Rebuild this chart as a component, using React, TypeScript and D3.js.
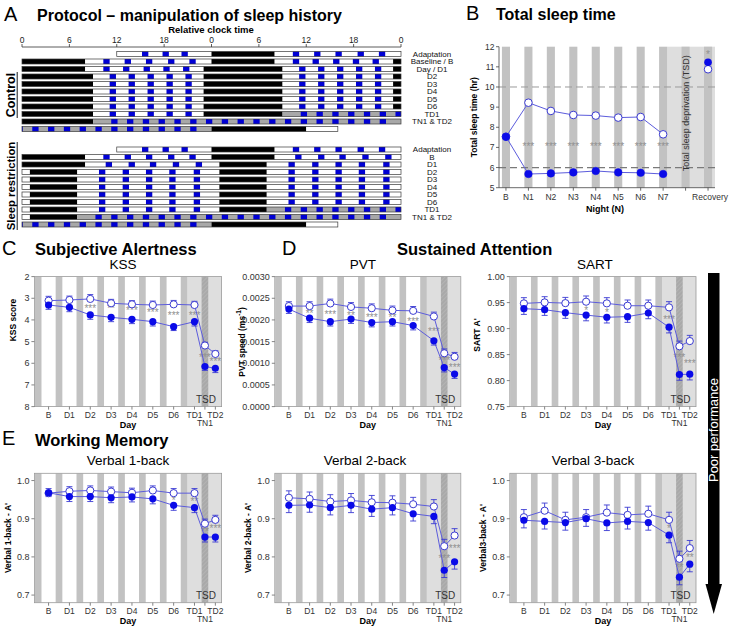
import React from 'react';
import * as d3 from 'd3';

const FONT = "'Liberation Sans', Arial, Helvetica, sans-serif";

// ---------------- Panel A: protocol (hours from adaptation day 00:00) ----------------
const clockTickHours = [0, 6, 12, 18, 24, 30, 36, 42, 48];
const clockTickLabels = ['0', '6', '12', '18', '0', '6', '12', '18', '0'];
const controlRowLabels = ['Adaptation', 'Baseline / B', 'Day / D1', 'D2', 'D3', 'D4', 'D5', 'D6', 'TD1', 'TN1 & TD2'];
const srRowLabels = ['Adaptation', 'B', 'D1', 'D2', 'D3', 'D4', 'D5', 'D6', 'TD1', 'TN1 & TD2'];

type Period = [number, number, string];
const controlPeriods: Period[] = [
  [12, 24, 'wake'], [24, 32, 'sleep'], [32, 48, 'wake'], [48, 56, 'sleep'], [56, 71, 'wake'], [71, 81, 'sleep'],
  [81, 95, 'wake'], [95, 105, 'sleep'], [105, 119, 'wake'], [119, 129, 'sleep'], [129, 143, 'wake'], [143, 153, 'sleep'],
  [153, 167, 'wake'], [167, 177, 'sleep'], [177, 191, 'wake'], [191, 201, 'sleep'], [201, 215, 'wake'], [215, 225, 'sleep'],
  [225, 264, 'tsd'], [264, 276, 'sleep'], [276, 280, 'wake'],
];
const srPeriods: Period[] = [
  [12, 24, 'wake'], [24, 32, 'sleep'], [32, 48, 'wake'], [48, 56, 'sleep'], [56, 73, 'wake'], [73, 79, 'sleep'],
  [79, 97, 'wake'], [97, 103, 'sleep'], [103, 121, 'wake'], [121, 127, 'sleep'], [127, 145, 'wake'], [145, 151, 'sleep'],
  [151, 169, 'wake'], [169, 175, 'sleep'], [175, 193, 'wake'], [193, 199, 'sleep'], [199, 217, 'wake'], [217, 223, 'sleep'],
  [223, 264, 'tsd'], [264, 276, 'sleep'], [276, 280, 'wake'],
];
const controlSessions = [
  15.2, 17.8, 20.2, 34.3, 37.0, 39.7, 42.5, 45.2, 58.3, 60.8, 63.4, 65.9, 68.4,
  83.1, 85.5, 87.9, 90.3, 92.7, 107.1, 109.5, 111.9, 114.3, 116.7, 131.1, 133.5, 135.9, 138.3, 140.7,
  155.1, 157.5, 159.9, 162.3, 164.7, 179.1, 181.5, 183.9, 186.3, 188.7, 203.1, 205.5, 207.9, 210.3, 212.7,
  227.3, 229.3, 231.3, 233.3, 235.3, 237.3, 239.3, 241.3, 243.3, 245.3, 247.3, 249.3, 251.3, 253.3, 255.3,
  257.3, 259.3, 261.3,
];
const srSessions = [
  15.2, 17.8, 20.2, 34.3, 37.0, 39.7, 42.5, 45.2, 58.6, 61.5, 64.2, 67.1, 70.0,
  81.75, 84.75, 87.7, 90.65, 93.75, 105.75, 108.75, 111.7, 114.65, 117.75, 129.75, 132.75, 135.7, 138.65, 141.75,
  153.75, 156.75, 159.7, 162.65, 165.75, 177.75, 180.75, 183.7, 186.65, 189.75, 201.75, 204.75, 207.7, 210.65, 213.75,
  225.3, 227.3, 229.3, 231.3, 233.3, 235.3, 237.3, 239.3, 241.3, 243.3, 245.3, 247.3, 249.3, 251.3, 253.3, 255.3,
  257.3, 259.3, 261.3,
];

// ---------------- Panel B: total sleep time ----------------
const nightLabels = ['B', 'N1', 'N2', 'N3', 'N4', 'N5', 'N6', 'N7'];
const tstControl = [7.53, 9.22, 8.81, 8.61, 8.58, 8.48, 8.51, 7.65];
const tstSR = [7.53, 5.68, 5.71, 5.76, 5.83, 5.76, 5.74, 5.68];
const tstRecovery = { control: 10.88, sr: 11.23 };
const tstTicks = [5, 6, 7, 8, 9, 10, 11, 12];

// ---------------- Panels C-E ----------------
const dayLabels = ['B', 'D1', 'D2', 'D3', 'D4', 'D5', 'D6', 'TD1', 'TN1', 'TD2'];
const dayPos = [0, 1, 2, 3, 4, 5, 6, 7, 7.5, 8];

const kssControl = [3.11, 3.08, 3.03, 3.23, 3.28, 3.31, 3.28, 3.31, 5.18, 5.57];
const kssControlErr = [0.2, 0.18, 0.2, 0.18, 0.17, 0.18, 0.18, 0.17, 0.15, 0.15];
const kssSR = [3.31, 3.42, 3.77, 3.88, 3.97, 4.08, 4.31, 4.08, 6.15, 6.23];
const kssSRErr = [0.2, 0.2, 0.2, 0.2, 0.2, 0.2, 0.18, 0.2, 0.18, 0.2];
const kssStars: [number, string, number][] = [[2, '***', 3.45], [3, '**', 3.42], [4, '***', 3.55], [5, '***', 3.62], [6, '***', 3.75], [7, '***', 3.75], [8, '***', 5.7], [9, '***', 5.9]];

const pvtControl = [0.00232, 0.00232, 0.00238, 0.0023, 0.00227, 0.00222, 0.00221, 0.00208, 0.00123, 0.00115];
const pvtControlErr = [0.0001, 0.0001, 0.0001, 0.0001, 0.0001, 0.0001, 0.0001, 0.0001, 0.0001, 0.0001];
const pvtSR = [0.00225, 0.00204, 0.00196, 0.00202, 0.00194, 0.00196, 0.00187, 0.00152, 0.0009, 0.00075];
const pvtSRErr = [0.0001, 0.0001, 0.0001, 0.0001, 0.0001, 0.0001, 0.0001, 0.0001, 0.0001, 0.0001];
const pvtStars: [number, string, number][] = [[1, '**', 0.00217], [2, '***', 0.00214], [3, '**', 0.00213], [4, '***', 0.00207], [5, '**', 0.00207], [6, '***', 0.00199], [7, '***', 0.00176], [8, '***', 0.00109], [9, '***', 0.00092]];

const sartControl = [0.9485, 0.9504, 0.949, 0.9517, 0.9485, 0.944, 0.944, 0.9408, 0.866, 0.876];
const sartControlErr = [0.011, 0.011, 0.011, 0.011, 0.011, 0.011, 0.011, 0.011, 0.01, 0.011];
const sartSR = [0.9383, 0.9364, 0.9307, 0.926, 0.9218, 0.923, 0.93, 0.9027, 0.8117, 0.8123];
const sartSRErr = [0.011, 0.011, 0.011, 0.011, 0.011, 0.011, 0.011, 0.011, 0.011, 0.011];
const sartStars: [number, string, number][] = [[3, '*', 0.9358], [4, '*', 0.9326], [7, '***', 0.9186], [8, '***', 0.8467], [9, '***', 0.834]];

const v1Control = [0.967, 0.972, 0.974, 0.971, 0.968, 0.974, 0.967, 0.967, 0.887, 0.897];
const v1ControlErr = [0.012, 0.012, 0.012, 0.012, 0.012, 0.012, 0.012, 0.012, 0.012, 0.012];
const v1SR = [0.968, 0.958, 0.958, 0.955, 0.957, 0.952, 0.935, 0.929, 0.852, 0.852];
const v1SRErr = [0.01, 0.013, 0.013, 0.013, 0.013, 0.013, 0.013, 0.013, 0.013, 0.013];
const v1Stars: [number, string, number][] = [[6, '*', 0.949], [7, '**', 0.946], [8, '**', 0.868], [9, '***', 0.876]];

const v2Control = [0.955, 0.952, 0.945, 0.948, 0.943, 0.942, 0.938, 0.932, 0.828, 0.856];
const v2ControlErr = [0.018, 0.018, 0.018, 0.018, 0.018, 0.018, 0.018, 0.018, 0.018, 0.018];
const v2SR = [0.935, 0.936, 0.929, 0.935, 0.925, 0.929, 0.913, 0.906, 0.765, 0.787];
const v2SRErr = [0.019, 0.019, 0.019, 0.019, 0.019, 0.019, 0.019, 0.019, 0.019, 0.019];
const v2Stars: [number, string, number][] = [[8, '***', 0.797], [9, '***', 0.823]];

const v3Control = [0.904, 0.921, 0.897, 0.904, 0.916, 0.91, 0.913, 0.897, 0.795, 0.823];
const v3ControlErr = [0.02, 0.02, 0.02, 0.02, 0.02, 0.02, 0.02, 0.02, 0.02, 0.02];
const v3SR = [0.896, 0.893, 0.89, 0.9, 0.889, 0.893, 0.89, 0.857, 0.747, 0.781];
const v3SRErr = [0.02, 0.02, 0.02, 0.02, 0.02, 0.02, 0.02, 0.02, 0.02, 0.02];
const v3Stars: [number, string, number][] = [[7, '*', 0.876], [8, '**', 0.775], [9, '**', 0.8]];

const LINE = '#5c5cdc';
const FILL = '#0a0ae8';
const OPEN = '#3a3ad2';
const STAR = '#909090';
const DARK = '#c2c2c2';
const LIGHT = '#dedede';

function ProtocolGroup({ periods, sessions, top, labels }: { periods: Period[]; sessions: number[]; top: number; labels: string[] }) {
  const x = d3.scaleLinear().domain([0, 48]).range([22, 401]);
  const rowH = 5;
  const step = 7.5;
  const tStart = periods[0][0];
  const tEnd = periods[periods.length - 1][1];
  const color: Record<string, string> = { wake: '#ffffff', sleep: '#000000', tsd: '#a8a8a8' };
  const rows = d3.range(11).map((k) => {
    const r0 = 24 * k;
    const r1 = r0 + 48;
    const s = Math.max(r0, tStart);
    const e = Math.min(r1, tEnd);
    const y = top + k * step;
    const segs = periods
      .filter((p) => p[1] > s && p[0] < e)
      .map((p, i) => (
        <rect key={'p' + i} x={x(Math.max(p[0], s) - r0)} y={y} width={x(Math.min(p[1], e) - r0) - x(Math.max(p[0], s) - r0)} height={rowH} fill={color[p[2]]} />
      ));
    const ses = sessions
      .filter((t) => t + 0.8 > s && t < e)
      .map((t, i) => (
        <rect key={'s' + i} x={x(Math.max(t, s) - r0)} y={y} width={x(Math.min(t + 0.8, e) - r0) - x(Math.max(t, s) - r0)} height={rowH} fill="#0000d4" />
      ));
    return (
      <g key={k}>
        {segs}
        {ses}
        <rect x={x(s - r0)} y={y} width={x(e - r0) - x(s - r0)} height={rowH} fill="none" stroke="#3a3a3a" strokeWidth={0.7} />
      </g>
    );
  });
  return (
    <g>
      {rows}
      {labels.map((l, k) => (
        <text key={l + k} x={432} y={top + k * step + 2.5} dominantBaseline="central" textAnchor="middle" fontSize={8} fill="#111">
          {l}
        </text>
      ))}
    </g>
  );
}

function PanelA() {
  const x = d3.scaleLinear().domain([0, 48]).range([22, 401]);
  return (
    <g>
      <text x={4} y={21} fontSize={20}>A</text>
      <text x={37} y={21} fontSize={16} fontWeight="bold">Protocol – manipulation of sleep history</text>
      <text x={211} y={33} fontSize={9.5} fontWeight="bold" textAnchor="middle">Relative clock time</text>
      <line x1={x(0)} x2={x(48)} y1={47} y2={47} stroke="#333" strokeWidth={0.8} />
      {clockTickHours.map((h, i) => (
        <g key={i}>
          <line x1={x(h)} x2={x(h)} y1={47} y2={44} stroke="#333" strokeWidth={0.8} />
          <text x={x(h)} y={42.5} fontSize={8.5} textAnchor="middle" fill="#222">{clockTickLabels[i]}</text>
        </g>
      ))}
      <ProtocolGroup periods={controlPeriods} sessions={controlSessions} top={51.5} labels={controlRowLabels} />
      <ProtocolGroup periods={srPeriods} sessions={srSessions} top={147} labels={srRowLabels} />
      <g transform="translate(15,95) rotate(-90)">
        <text x={0} y={0} fontSize={12.5} fontWeight="bold" textAnchor="middle">Control</text>
        <line x1={-23} x2={23} y1={2.2} y2={2.2} stroke="#000" strokeWidth={0.9} />
      </g>
      <g transform="translate(15,186) rotate(-90)">
        <text x={0} y={0} fontSize={11.3} fontWeight="bold" textAnchor="middle">Sleep restriction</text>
        <line x1={-44} x2={44} y1={2.2} y2={2.2} stroke="#000" strokeWidth={0.9} />
      </g>
    </g>
  );
}

function PanelB() {
  const left = 499, right = 715, top = 46.7, bottom = 187.7;
  const x = d3.scaleLinear().domain([-0.31, 9.31]).range([left, right]);
  const y = d3.scaleLinear().domain([5, 12]).range([bottom, top]);
  const sw = 0.36;
  const stripes = [0, 1, 2, 3, 4, 5, 6, 7, 8, 9];
  const line = d3.line<number>().x((d, i) => x(i)).y((d) => y(d));
  return (
    <g>
      <text x={466} y={20} fontSize={20}>B</text>
      <text x={496} y={20} fontSize={16} fontWeight="bold">Total sleep time</text>
      <rect x={x(7.18)} y={top} width={right - x(7.18)} height={bottom - top} fill={LIGHT} />
      {stripes.map((s) => (
        <rect key={s} x={x(s - sw / 2)} y={top} width={x(s + sw / 2) - x(s - sw / 2)} height={bottom - top} fill={DARK} />
      ))}
      <line x1={left} x2={right} y1={y(10)} y2={y(10)} stroke="#9a9a9a" strokeWidth={1} strokeDasharray="7,4" />
      <line x1={left} x2={right} y1={y(6)} y2={y(6)} stroke="#7a7a7a" strokeWidth={1.3} strokeDasharray="7,4" />
      <text transform={`translate(${x(8) + 3.5},${(top + bottom) / 2 - 4}) rotate(-90)`} textAnchor="middle" fontSize={9} fill="#333">Total sleep deprivation (TSD)</text>
      {nightLabels.slice(1).map((n, i) => (
        <text key={n} x={x(i + 1)} y={y(7.05) + 4} textAnchor="middle" fontSize={10} fill={STAR}>***</text>
      ))}
      <text x={x(9)} y={y(11.62) + 4} textAnchor="middle" fontSize={10} fill={STAR}>*</text>
      <path d={line(tstControl) || ''} fill="none" stroke={LINE} strokeWidth={1} />
      <path d={line(tstSR) || ''} fill="none" stroke={LINE} strokeWidth={1} />
      {tstControl.map((v, i) => (
        <circle key={'c' + i} cx={x(i)} cy={y(v)} r={3.8} fill="#fff" stroke={OPEN} strokeWidth={1} />
      ))}
      {tstSR.map((v, i) => (
        <circle key={'s' + i} cx={x(i)} cy={y(v)} r={3.8} fill={FILL} stroke={FILL} strokeWidth={0.5} />
      ))}
      <circle cx={x(9)} cy={y(tstRecovery.control)} r={3.8} fill="#fff" stroke={OPEN} strokeWidth={1} />
      <circle cx={x(9)} cy={y(tstRecovery.sr)} r={3.8} fill={FILL} />
      <line x1={left} x2={left} y1={top} y2={bottom} stroke="#444" strokeWidth={0.8} />
      <line x1={left} x2={right} y1={bottom} y2={bottom} stroke="#444" strokeWidth={0.8} />
      {tstTicks.map((t) => (
        <g key={t}>
          <line x1={left - 3} x2={left} y1={y(t)} y2={y(t)} stroke="#444" strokeWidth={0.8} />
          <text x={left - 4.5} y={y(t)} dominantBaseline="central" textAnchor="end" fontSize={8.5} fill="#333">{t}</text>
        </g>
      ))}
      {stripes.map((s) => (
        <line key={s} x1={x(s)} x2={x(s)} y1={bottom} y2={bottom + 3} stroke="#444" strokeWidth={0.8} />
      ))}
      {nightLabels.map((n, i) => (
        <text key={n} x={x(i)} y={200} textAnchor="middle" fontSize={8.5} fill="#333">{n}</text>
      ))}
      <text x={x(9) + 2} y={200} textAnchor="middle" fontSize={8.5} fill="#333">Recovery</text>
      <text x={605} y={212} textAnchor="middle" fontSize={9} fontWeight="bold">Night (N)</text>
      <text transform={`translate(477,${(top + bottom) / 2}) rotate(-90)`} textAnchor="middle" fontSize={8.5} fontWeight="bold">Total sleep time (hr)</text>
    </g>
  );
}

interface PanelProps {
  id: string;
  left: number;
  top: number;
  width: number;
  height: number;
  lo: number;
  hi: number;
  ticks: number[];
  fmt: (n: number) => string;
  inverted?: boolean;
  title: string;
  titleX: number;
  ylabel: React.ReactNode;
  ylabelX: number;
  ylabelY: number;
  ctrl: number[];
  ctrlErr: number[];
  sr: number[];
  srErr: number[];
  stars: [number, string, number][];
}

function DayPanel(p: PanelProps) {
  const { left, top, width, height, lo, hi, ticks, fmt, inverted, title, titleX, ylabel, ylabelX, ylabelY, ctrl, ctrlErr, sr, srErr, stars } = p;
  const bottom = top + height;
  const right = left + width;
  const x = d3.scaleLinear().domain([-0.68, 8.3]).range([left, right]);
  const y = inverted ? d3.scaleLinear().domain([lo, hi]).range([top, bottom]) : d3.scaleLinear().domain([lo, hi]).range([bottom, top]);
  const sw = 0.32;
  const nightStripes = [-0.5, 0.5, 1.5, 2.5, 3.5, 4.5, 5.5, 6.5];
  const line = d3.line<number>().x((d, i) => x(dayPos[i])).y((d) => y(d));
  const clipId = 'clip-' + p.id;
  const errLen = (v: number, e: number) => Math.abs(y(v + e) - y(v));
  const cap = 3;
  return (
    <g>
      <clipPath id={clipId}>
        <rect x={left} y={top} width={width} height={height} />
      </clipPath>
      <g clipPath={`url(#${clipId})`}>
        <rect x={left} y={top} width={width} height={height} fill="#fff" />
        <rect x={x(6.5 + sw / 2)} y={top} width={right - x(6.5 + sw / 2)} height={height} fill={LIGHT} />
        {nightStripes.map((s) => (
          <rect key={s} x={x(s - sw / 2)} y={top} width={x(s + sw / 2) - x(s - sw / 2)} height={height} fill={DARK} />
        ))}
        <rect x={x(7.5 - sw / 2)} y={top} width={x(7.5 + sw / 2) - x(7.5 - sw / 2)} height={height} fill="url(#hatch)" />
      </g>
      <rect x={left} y={top} width={width} height={height} fill="none" stroke="#999" strokeWidth={0.8} />
      <text x={x(7.55)} y={bottom - 3.5} textAnchor="middle" fontSize={10} fill="#333">TSD</text>
      {stars.map(([i, s, v], k) => (
        <text key={k} x={x(dayPos[i])} y={y(v) + 4.2} textAnchor="middle" fontSize={10} fill={STAR}>{s}</text>
      ))}
      <path d={line(ctrl) || ''} fill="none" stroke={LINE} strokeWidth={1} />
      <path d={line(sr) || ''} fill="none" stroke={LINE} strokeWidth={1} />
      {ctrl.map((v, i) => {
        const cx = x(dayPos[i]);
        const y0 = y(v);
        const y1 = y0 - errLen(v, ctrlErr[i]);
        return (
          <g key={'ce' + i} stroke={OPEN} strokeWidth={0.9}>
            <line x1={cx} x2={cx} y1={y0} y2={y1} />
            <line x1={cx - cap} x2={cx + cap} y1={y1} y2={y1} />
          </g>
        );
      })}
      {sr.map((v, i) => {
        const cx = x(dayPos[i]);
        const y0 = y(v);
        const y1 = y0 + errLen(v, srErr[i]);
        return (
          <g key={'se' + i} stroke={OPEN} strokeWidth={0.9}>
            <line x1={cx} x2={cx} y1={y0} y2={y1} />
            <line x1={cx - cap} x2={cx + cap} y1={y1} y2={y1} />
          </g>
        );
      })}
      {ctrl.map((v, i) => (
        <circle key={'c' + i} cx={x(dayPos[i])} cy={y(v)} r={3.6} fill="#fff" stroke={OPEN} strokeWidth={1} />
      ))}
      {sr.map((v, i) => (
        <circle key={'s' + i} cx={x(dayPos[i])} cy={y(v)} r={3.6} fill={FILL} />
      ))}
      {ticks.map((t) => (
        <g key={t}>
          <line x1={left - 3} x2={left} y1={y(t)} y2={y(t)} stroke="#666" strokeWidth={0.8} />
          <text x={left - 5} y={y(t)} dominantBaseline="central" textAnchor="end" fontSize={9} fill="#333">{fmt(t)}</text>
        </g>
      ))}
      {dayPos.map((d, i) => (
        <line key={i} x1={x(d)} x2={x(d)} y1={bottom} y2={bottom + 3} stroke="#666" strokeWidth={0.8} />
      ))}
      {dayLabels.map((l, i) => (
        <text key={l} x={x(dayPos[i])} y={l === 'TN1' ? bottom + 19.5 : bottom + 11.5} textAnchor="middle" fontSize={8.5} fill="#333">{l}</text>
      ))}
      <text x={(left + right) / 2} y={bottom + 21} textAnchor="middle" fontSize={9} fontWeight="bold">Day</text>
      <text x={titleX} y={top - 8} textAnchor="middle" fontSize={13.5}>{title}</text>
      <text transform={`translate(${ylabelX},${ylabelY}) rotate(-90)`} textAnchor="middle" fontSize={8.5} fontWeight="bold">{ylabel}</text>
    </g>
  );
}

export default function App() {
  const f0 = (n: number) => String(n);
  const f4 = d3.format('.4f');
  const f2 = d3.format('.2f');
  const f1 = d3.format('.1f');
  const cTop = 276.6, cH = 130;
  const eTop = 473.3, eH = 129.4;
  return (
    <svg width={732} height={631} viewBox="0 0 732 631" style={{ position: 'absolute', left: 0, top: 0, background: '#fff' }} fontFamily={FONT}>
      <defs>
        <pattern id="hatch" patternUnits="userSpaceOnUse" width={3} height={3} patternTransform="rotate(45)">
          <rect width={3} height={3} fill="#a9a9a9" />
          <line x1={0} y1={0} x2={0} y2={3} stroke="#bdbdbd" strokeWidth={1} />
        </pattern>
      </defs>
      <rect width={732} height={631} fill="#fff" />
      <PanelA />
      <PanelB />

      <text x={2} y={255} fontSize={20}>C</text>
      <text x={35} y={255} fontSize={16.5} fontWeight="bold">Subjective Alertness</text>
      <text x={282} y={255} fontSize={20}>D</text>
      <text x={397} y={255} fontSize={16.5} fontWeight="bold">Sustained Attention</text>
      <text x={2} y={445} fontSize={20}>E</text>
      <text x={35} y={446} fontSize={16.5} fontWeight="bold">Working Memory</text>

      <DayPanel id="kss" left={34.4} top={cTop} width={187.2} height={cH} lo={2} hi={8} ticks={[2, 3, 4, 5, 6, 7, 8]} fmt={f0} inverted
        title="KSS" titleX={123} ylabel="KSS score" ylabelX={15.5} ylabelY={320} ctrl={kssControl} ctrlErr={kssControlErr} sr={kssSR} srErr={kssSRErr} stars={kssStars} />
      <DayPanel id="pvt" left={274.8} top={cTop} width={186} height={cH} lo={0} hi={0.003} ticks={[0, 0.0005, 0.001, 0.0015, 0.002, 0.0025, 0.003]} fmt={f4}
        title="PVT" titleX={363} ylabel={<>PVT speed (ms<tspan dy={-3.5} fontSize={6.5}>-1</tspan><tspan dy={3.5}>)</tspan></>} ylabelX={244.5} ylabelY={342} ctrl={pvtControl} ctrlErr={pvtControlErr} sr={pvtSR} srErr={pvtSRErr} stars={pvtStars} />
      <DayPanel id="sart" left={509.8} top={cTop} width={186.2} height={cH} lo={0.75} hi={1.0} ticks={[0.75, 0.8, 0.85, 0.9, 0.95, 1.0]} fmt={f2}
        title="SART" titleX={595} ylabel="SART A'" ylabelX={480} ylabelY={335} ctrl={sartControl} ctrlErr={sartControlErr} sr={sartSR} srErr={sartSRErr} stars={sartStars} />

      <DayPanel id="v1" left={34.4} top={eTop} width={187.2} height={eH} lo={0.68} hi={1.019} ticks={[0.7, 0.8, 0.9, 1.0]} fmt={f1}
        title="Verbal 1-back" titleX={128} ylabel="Verbal 1-back - A'" ylabelX={10.5} ylabelY={538} ctrl={v1Control} ctrlErr={v1ControlErr} sr={v1SR} srErr={v1SRErr} stars={v1Stars} />
      <DayPanel id="v2" left={274.8} top={eTop} width={186} height={eH} lo={0.68} hi={1.019} ticks={[0.7, 0.8, 0.9, 1.0]} fmt={f1}
        title="Verbal 2-back" titleX={365} ylabel="Verbal 2-back - A'" ylabelX={250.5} ylabelY={538} ctrl={v2Control} ctrlErr={v2ControlErr} sr={v2SR} srErr={v2SRErr} stars={v2Stars} />
      <DayPanel id="v3" left={509.8} top={eTop} width={186.2} height={eH} lo={0.68} hi={1.019} ticks={[0.7, 0.8, 0.9, 1.0]} fmt={f1}
        title="Verbal 3-back" titleX={593} ylabel="Verbal3-back - A'" ylabelX={485.5} ylabelY={538} ctrl={v3Control} ctrlErr={v3ControlErr} sr={v3SR} srErr={v3SRErr} stars={v3Stars} />

      <rect x={708} y={273} width={11.5} height={312} fill="#000" />
      <polygon points="705.5,584 722,584 713.7,614" fill="#000" />
      <text transform="translate(717.8,430) rotate(-90)" textAnchor="middle" fontSize={13} fill="#fff">Poor performance</text>
    </svg>
  );
}
